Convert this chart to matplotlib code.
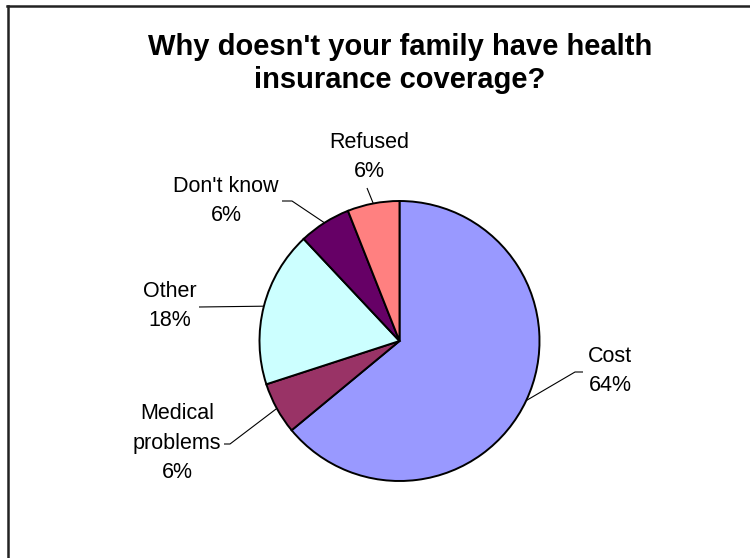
import numpy as np
import matplotlib
matplotlib.use("Agg")
import matplotlib.pyplot as plt
from matplotlib.lines import Line2D

plt.rcParams['font.family'] = ['Liberation Sans', 'DejaVu Sans']

### data
categories = ["Cost", "Medical\nproblems", "Other", "Don't know", "Refused"]
shares = [64, 6, 18, 6, 6]
colors = ["#9999FF", "#993366", "#CCFFFF", "#660066", "#FF8080"]

# label layout (pixel coords, y measured from top): text centre, elbow points
W, H = 750, 558
CX, CY, R = 399.5, 341, 140
label_pos = [(610, 371), (177, 443), (170, 306), (226, 201), (369, 157)]
elbows = [[(575, 372), (583, 372)],
          [(230, 444), (224, 444)],
          [(199, 307)],
          [(292, 201), (282, 201)],
          [(367, 188)]]


def main():
    fig = plt.figure(figsize=(W / 100, H / 100), dpi=100)
    ax = fig.add_axes([0, 0, 1, 1])

    wedges, _ = ax.pie(shares, colors=colors, startangle=90, counterclock=False,
                       center=(CX, H - CY), radius=R,
                       wedgeprops=dict(edgecolor="black", linewidth=1.4))
    ax.set_xlim(0, W)
    ax.set_ylim(0, H)
    ax.set_aspect("auto")
    ax.axis("off")

    ### labels with leader lines from the middle of each wedge
    for w, cat, val, (tx, ty), elb in zip(wedges, categories, shares, label_pos, elbows):
        mid = np.deg2rad((w.theta1 + w.theta2) / 2)
        ax0 = CX + R * np.cos(mid)
        ay0 = (H - CY) + R * np.sin(mid)
        xs = [ax0] + [p[0] for p in elb]
        ys = [ay0] + [H - p[1] for p in elb]
        ax.plot(xs, ys, color="black", lw=0.8, solid_capstyle="butt")
        ax.text(tx, H - ty, f"{cat}\n{val}%", ha="center", va="center",
                fontsize=15.5, linespacing=1.55, color="black")

    fig.text(400 / W, 1 - 63.5 / H, "Why doesn't your family have health\ninsurance coverage?",
             ha="center", va="center", fontsize=21, fontweight="bold", linespacing=1.2)

    ### chart border (only left and top visible)
    fig.add_artist(Line2D([8 / W, 8 / W], [0, 1 - 6 / H], color="#222222", lw=1.8,
                          transform=fig.transFigure))
    fig.add_artist(Line2D([7 / W, 1], [1 - 6 / H, 1 - 6 / H], color="#222222", lw=1.8,
                          transform=fig.transFigure))

    fig.savefig("out.png", dpi=100, facecolor="white")


if __name__ == "__main__":
    main()
